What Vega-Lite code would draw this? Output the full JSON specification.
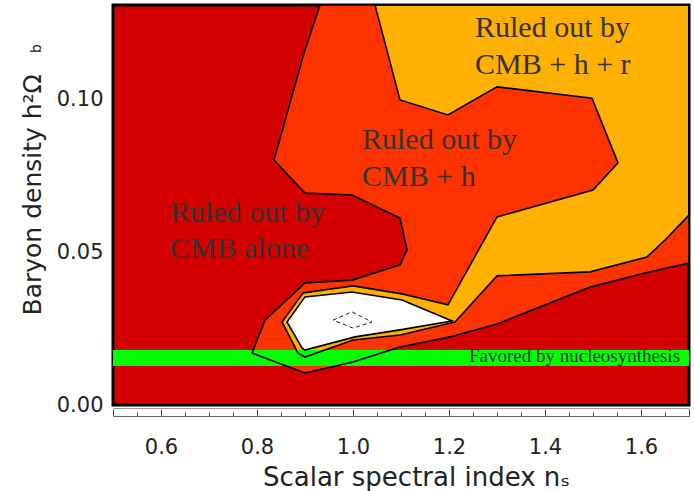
{
  "$schema": "https://vega.github.io/schema/vega-lite/v6.json",
  "width": 576,
  "height": 400,
  "autosize": "none",
  "padding": {"left": 113, "top": 5, "right": 5, "bottom": 86},
  "background": "white",
  "config": {"view": {"stroke": "black", "strokeWidth": 3, "fill": "#d40000"}},
  "datasets": {
    "poly": [
      {"r": "A", "i": 0, "x": 0.93125, "y": 0.131},
      {"r": "A", "i": 1, "x": 0.9, "y": 0.1163},
      {"r": "A", "i": 2, "x": 0.8354, "y": 0.0802},
      {"r": "A", "i": 3, "x": 0.9, "y": 0.0694},
      {"r": "A", "i": 4, "x": 0.9979, "y": 0.0688},
      {"r": "A", "i": 5, "x": 1.0979, "y": 0.0612},
      {"r": "A", "i": 6, "x": 1.1125, "y": 0.0508},
      {"r": "A", "i": 7, "x": 1.0979, "y": 0.0459},
      {"r": "A", "i": 8, "x": 0.9979, "y": 0.0409},
      {"r": "A", "i": 9, "x": 0.9, "y": 0.04},
      {"r": "A", "i": 10, "x": 0.8167, "y": 0.0278},
      {"r": "A", "i": 11, "x": 0.7896, "y": 0.017},
      {"r": "A", "i": 12, "x": 0.9, "y": 0.0105},
      {"r": "A", "i": 13, "x": 1.0, "y": 0.0141},
      {"r": "A", "i": 14, "x": 1.0979, "y": 0.019},
      {"r": "A", "i": 15, "x": 1.2021, "y": 0.0223},
      {"r": "A", "i": 16, "x": 1.3, "y": 0.0265},
      {"r": "A", "i": 17, "x": 1.4938, "y": 0.0386},
      {"r": "A", "i": 18, "x": 1.6083, "y": 0.0432},
      {"r": "A", "i": 19, "x": 1.7, "y": 0.0465},
      {"r": "A", "i": 20, "x": 1.7, "y": 0.131},
      {"r": "B", "i": 0, "x": 1.0458, "y": 0.131},
      {"r": "B", "i": 1, "x": 1.0979, "y": 0.0999},
      {"r": "B", "i": 2, "x": 1.1979, "y": 0.095},
      {"r": "B", "i": 3, "x": 1.3, "y": 0.1042},
      {"r": "B", "i": 4, "x": 1.4979, "y": 0.1005},
      {"r": "B", "i": 5, "x": 1.5521, "y": 0.0793},
      {"r": "B", "i": 6, "x": 1.5, "y": 0.0704},
      {"r": "B", "i": 7, "x": 1.3, "y": 0.0616},
      {"r": "B", "i": 8, "x": 1.1979, "y": 0.0328},
      {"r": "B", "i": 9, "x": 1.1021, "y": 0.0364},
      {"r": "B", "i": 10, "x": 1.0, "y": 0.039},
      {"r": "B", "i": 11, "x": 0.8958, "y": 0.0367},
      {"r": "B", "i": 12, "x": 0.8521, "y": 0.0272},
      {"r": "B", "i": 13, "x": 0.8854, "y": 0.017},
      {"r": "B", "i": 14, "x": 0.9, "y": 0.0157},
      {"r": "B", "i": 15, "x": 1.0, "y": 0.0213},
      {"r": "B", "i": 16, "x": 1.0979, "y": 0.0229},
      {"r": "B", "i": 17, "x": 1.2125, "y": 0.0272},
      {"r": "B", "i": 18, "x": 1.3, "y": 0.0423},
      {"r": "B", "i": 19, "x": 1.4938, "y": 0.0436},
      {"r": "B", "i": 20, "x": 1.6125, "y": 0.0485},
      {"r": "B", "i": 21, "x": 1.65, "y": 0.054},
      {"r": "B", "i": 22, "x": 1.7, "y": 0.0622},
      {"r": "B", "i": 23, "x": 1.7, "y": 0.131},
      {"r": "C", "i": 0, "x": 0.8625, "y": 0.0272},
      {"r": "C", "i": 1, "x": 0.9, "y": 0.0354},
      {"r": "C", "i": 2, "x": 0.9979, "y": 0.037},
      {"r": "C", "i": 3, "x": 1.1021, "y": 0.0344},
      {"r": "C", "i": 4, "x": 1.2063, "y": 0.0275},
      {"r": "C", "i": 5, "x": 1.0979, "y": 0.0246},
      {"r": "C", "i": 6, "x": 1.0042, "y": 0.0223},
      {"r": "C", "i": 7, "x": 0.9, "y": 0.018},
      {"r": "C", "i": 8, "x": 0.8938, "y": 0.0187},
      {"r": "D", "i": 0, "x": 0.9583, "y": 0.0278},
      {"r": "D", "i": 1, "x": 0.9979, "y": 0.0305},
      {"r": "D", "i": 2, "x": 1.0396, "y": 0.0272},
      {"r": "D", "i": 3, "x": 1.0, "y": 0.0252}
    ],
    "notes": [
      {"label": "Ruled out by", "x": 0.6188, "y": 0.0599},
      {"label": "CMB alone", "x": 0.6188, "y": 0.0481},
      {"label": "Ruled out by", "x": 1.0188, "y": 0.0838},
      {"label": "CMB + h", "x": 1.0188, "y": 0.0717},
      {"label": "Ruled out by", "x": 1.2542, "y": 0.1205},
      {"label": "CMB + h + r", "x": 1.2542, "y": 0.1084}
    ],
    "band": [
      {"label": "Favored by nucleosynthesis", "x": 0.5, "x2": 1.7, "y": 0.0128, "y2": 0.018, "lx": 1.6813, "ly": 0.0141}
    ],
    "sub": [
      {"label": "b", "x": 0.35, "y": 0.1153}
    ]
  },
  "resolve": {"axis": {"x": "independent", "y": "independent"}},
  "layer": [
    {
      "data": {"name": "poly"},
      "transform": [{"filter": "datum.r === 'A'"}],
      "mark": {"type": "line", "fill": "#ff3300", "strokeOpacity": 0, "interpolate": "linear-closed"},
      "encoding": {
        "x": {"field": "x", "type": "quantitative", "scale": {"domain": [0.5, 1.7], "nice": false, "zero": false},
          "axis": {"orient": "bottom", "offset": 11, "values": [0.6, 0.8, 1.0, 1.2, 1.4, 1.6], "format": ".1f", "ticks": false, "tickSize": 0, "domain": false, "grid": false, "labelPadding": 20, "labelFont": "DejaVu Sans", "labelFontSize": 21, "labelColor": "#222", "labelFlush": false,
            "title": "Scalar spectral index nₛ", "titleFont": "DejaVu Sans", "titleFontSize": 26, "titleFontWeight": "normal", "titleColor": "#222", "titleX": 303, "titleY": 69, "titleBaseline": "alphabetic", "titleAlign": "center"}},
        "y": {"field": "y", "type": "quantitative", "scale": {"domain": [0, 0.131], "nice": false, "zero": false},
          "axis": {"orient": "left", "values": [0, 0.05, 0.1], "format": ".2f", "ticks": false, "tickSize": 0, "domain": false, "grid": false, "labelPadding": 10, "labelFont": "DejaVu Sans", "labelFontSize": 21, "labelColor": "#222", "labelFlush": false,
            "title": "Baryon density h²Ω", "titleFont": "DejaVu Sans", "titleFontSize": 25, "titleFontWeight": "normal", "titleColor": "#222", "titleAngle": 270, "titleX": -73, "titleY": 310, "titleAlign": "left", "titleBaseline": "alphabetic"}},
        "order": {"field": "i", "type": "quantitative"}
      }
    },
    {
      "data": {"name": "poly"},
      "transform": [{"filter": "datum.r === 'B'"}],
      "mark": {"type": "line", "fill": "#ffb000", "strokeOpacity": 0, "interpolate": "linear-closed"},
      "encoding": {
        "x": {"field": "x", "type": "quantitative", "scale": {"domain": [0.5, 1.7], "nice": false, "zero": false},
          "axis": {"orient": "bottom", "offset": 11, "values": [0.5, 0.6, 0.8, 1.0, 1.2, 1.4, 1.6, 1.7], "ticks": true, "tickSize": -7, "tickColor": "#444", "tickWidth": 1, "domain": true, "domainColor": "#666", "domainWidth": 1, "labels": false, "grid": false, "title": null}},
        "y": {"field": "y", "type": "quantitative", "scale": {"domain": [0, 0.131], "nice": false, "zero": false}, "axis": null},
        "order": {"field": "i", "type": "quantitative"}
      }
    },
    {
      "data": {"name": "poly"},
      "transform": [{"filter": "datum.r === 'C'"}],
      "mark": {"type": "line", "fill": "white", "strokeOpacity": 0, "interpolate": "linear-closed"},
      "encoding": {
        "x": {"field": "x", "type": "quantitative", "scale": {"domain": [0.5, 1.7], "nice": false, "zero": false},
          "axis": {"orient": "bottom", "offset": 11, "values": [0.55, 0.65, 0.7, 0.75, 0.85, 0.9, 0.95, 1.05, 1.1, 1.15, 1.25, 1.3, 1.35, 1.45, 1.5, 1.55, 1.65], "ticks": true, "tickSize": -4, "tickColor": "#444", "tickWidth": 1, "domain": false, "labels": false, "grid": false, "title": null}},
        "y": {"field": "y", "type": "quantitative", "scale": {"domain": [0, 0.131], "nice": false, "zero": false}, "axis": null},
        "order": {"field": "i", "type": "quantitative"}
      }
    },
    {
      "data": {"name": "band"},
      "mark": {"type": "rect", "color": "#00ff00"},
      "encoding": {
        "x": {"field": "x", "type": "quantitative", "scale": {"domain": [0.5, 1.7], "nice": false, "zero": false},
          "axis": {"orient": "bottom", "offset": 3, "domain": true, "domainColor": "#999", "domainWidth": 1, "ticks": false, "labels": false, "grid": false, "title": null}},
        "x2": {"field": "x2"},
        "y": {"field": "y", "type": "quantitative", "scale": {"domain": [0, 0.131], "nice": false, "zero": false}, "axis": null},
        "y2": {"field": "y2"}
      }
    },
    {
      "data": {"name": "poly"},
      "transform": [{"filter": "datum.r !== 'D'"}],
      "mark": {"type": "line", "stroke": "black", "strokeWidth": 1.6, "interpolate": "linear-closed"},
      "encoding": {
        "x": {"field": "x", "type": "quantitative", "scale": {"domain": [0.5, 1.7], "nice": false, "zero": false}, "axis": null},
        "y": {"field": "y", "type": "quantitative", "scale": {"domain": [0, 0.131], "nice": false, "zero": false}, "axis": null},
        "detail": {"field": "r", "type": "nominal"},
        "order": {"field": "i", "type": "quantitative"}
      }
    },
    {
      "data": {"name": "poly"},
      "transform": [{"filter": "datum.r === 'D'"}],
      "mark": {"type": "line", "stroke": "#222", "strokeWidth": 1, "strokeDash": [4, 3], "interpolate": "linear-closed"},
      "encoding": {
        "x": {"field": "x", "type": "quantitative", "scale": {"domain": [0.5, 1.7], "nice": false, "zero": false}, "axis": null},
        "y": {"field": "y", "type": "quantitative", "scale": {"domain": [0, 0.131], "nice": false, "zero": false}, "axis": null},
        "order": {"field": "i", "type": "quantitative"}
      }
    },
    {
      "data": {"name": "notes"},
      "mark": {"type": "text", "font": "Liberation Serif", "fontSize": 30, "align": "left", "baseline": "alphabetic", "color": "#333"},
      "encoding": {
        "x": {"field": "x", "type": "quantitative", "scale": {"domain": [0.5, 1.7], "nice": false, "zero": false}, "axis": null},
        "y": {"field": "y", "type": "quantitative", "scale": {"domain": [0, 0.131], "nice": false, "zero": false}, "axis": null},
        "text": {"field": "label"}
      }
    },
    {
      "data": {"name": "band"},
      "mark": {"type": "text", "font": "Liberation Serif", "fontSize": 19, "align": "right", "baseline": "alphabetic", "color": "#333"},
      "encoding": {
        "x": {"field": "lx", "type": "quantitative", "scale": {"domain": [0.5, 1.7], "nice": false, "zero": false}, "axis": null},
        "y": {"field": "ly", "type": "quantitative", "scale": {"domain": [0, 0.131], "nice": false, "zero": false}, "axis": null},
        "text": {"field": "label"}
      }
    },
    {
      "data": {"name": "sub"},
      "mark": {"type": "text", "font": "DejaVu Sans", "fontSize": 14, "align": "left", "baseline": "alphabetic", "angle": 270, "color": "#222"},
      "encoding": {
        "x": {"field": "x", "type": "quantitative", "scale": {"domain": [0.5, 1.7], "nice": false, "zero": false}, "axis": null},
        "y": {"field": "y", "type": "quantitative", "scale": {"domain": [0, 0.131], "nice": false, "zero": false}, "axis": null},
        "text": {"field": "label"}
      }
    }
  ]
}
